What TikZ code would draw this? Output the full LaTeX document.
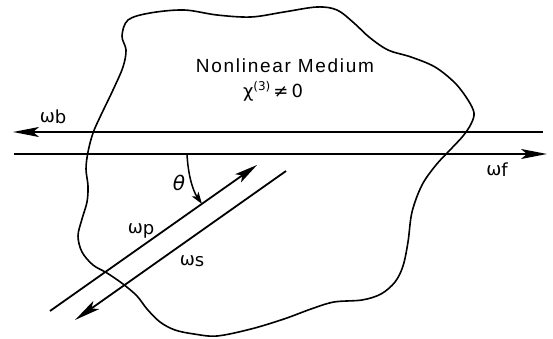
\documentclass[tikz,border=0pt]{standalone}
\usepackage{fontspec}
\setmainfont{Liberation Sans}
\newfontfamily\symfont{DejaVu Sans}
\usetikzlibrary{arrows.meta}
\tikzset{
  beam/.style={line width=1.8pt, -{Stealth[length=26pt,width=10pt,inset=6pt]}},
  blob/.style={line width=1.6pt, line join=round},
  lbl/.style={inner sep=0pt, font=\fontsize{18}{20}\selectfont},
  angarrow/.style={line width=1.5pt, -{Stealth[length=12pt,width=8pt,inset=3pt]}}
}
\begin{document}
\begin{tikzpicture}[x=1pt,y=-1pt]
\useasboundingbox (0,0) rectangle (553,339);
% medium outline
\draw[blob] plot[smooth cycle, tension=0.55] coordinates {
 (122,36) (128,20) (150,13) (184,10) (217,15) (251,17) (284,12) (317,7) (337,10)
 (354,23) (369,37) (388,50) (411,57) (435,67) (455,83) (468,100) (474,113)
 (471,124) (463,136) (450,150) (436,165) (422,185) (412,212) (408,242) (403,266)
 (395,282) (381,294) (362,300) (334,302) (311,309) (284,319) (251,329) (217,336)
 (194,334) (175,330) (160,322) (147,309) (137,296) (123,284) (107,273) (93,265)
 (82,252) (78,236) (82,219) (87,202) (88,186) (86,169) (88,152) (93,133) (101,115)
 (113,90) (123,67) (126,50)};
% beams
\coordinate (bR) at (543,132);
\coordinate (bL) at (13,132);
\coordinate (fL) at (14,154);
\coordinate (fR) at (547,154);
\coordinate (pS) at (50,311);
\coordinate (pE) at (257,165);
\coordinate (sS) at (286,171);
\coordinate (sE) at (75,320);
\draw[beam] (bR) -- (bL);
\draw[beam] (fL) -- (fR);
\draw[beam,-{Stealth[length=23pt,width=10pt,inset=5pt]}] (pS) -- (pE);
\draw[beam] (sS) -- (sE);
% angle
\coordinate (a0) at (187,154);
\coordinate (a1) at (202,204);
\draw[angarrow] (a0) .. controls (188,175) and (193,191) .. (a1);
% labels
\node[lbl, font=\fontsize{19}{22}\selectfont\addfontfeatures{LetterSpace=9}] (title) at (285,66) {Nonlinear Medium};
\node[lbl] (chi) at (273,91) {\symfont χ\raisebox{7pt}{\fontsize{12}{13}\selectfont(3)}\,≠\,0};
\node[lbl] (wb) at (53,117) {\symfont ω\raisebox{-1pt}{b}};
\node[lbl] (wf) at (497,170) {\symfont ω\raisebox{-1pt}{f}};
\node[lbl] (wp) at (141,231) {\symfont ω\raisebox{-1pt}{p}};
\node[lbl] (ws) at (192,261) {\symfont ω\raisebox{-1pt}{s}};
\node[lbl, font=\fontsize{20}{24}\selectfont] (th) at (179,183) {\symfont\itshape θ};
\end{tikzpicture}
\end{document}
